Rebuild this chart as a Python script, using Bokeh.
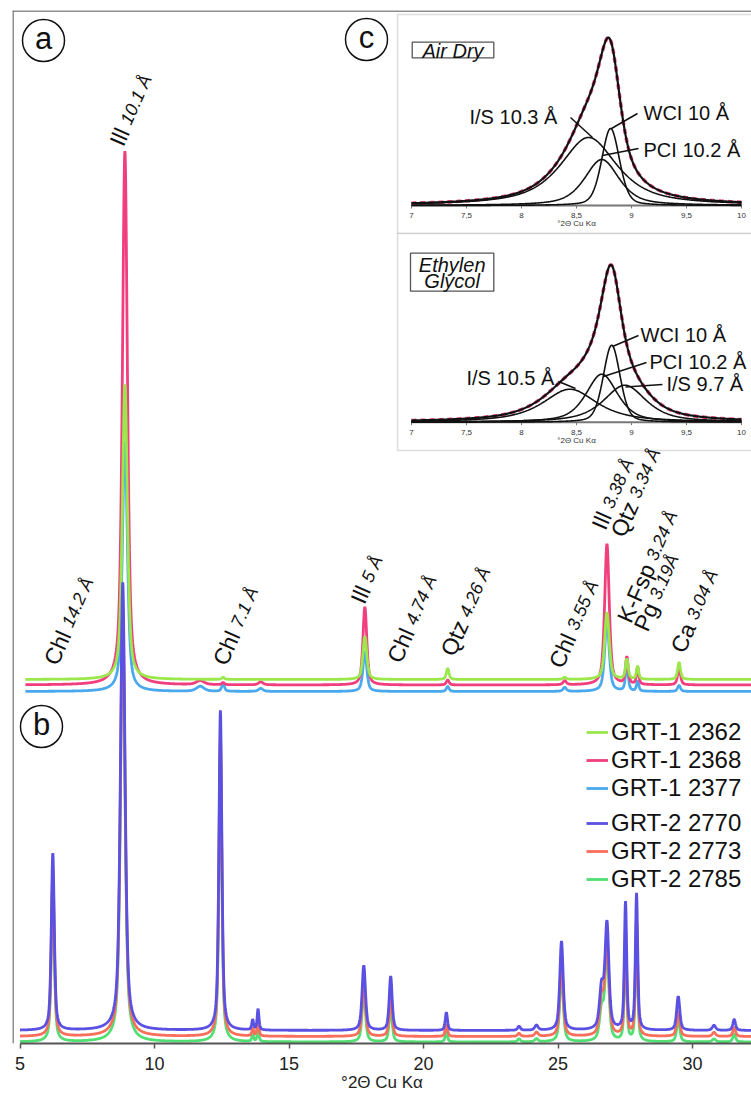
import math
import numpy as np
from bokeh.plotting import figure
from bokeh.models import Range1d, Span, BoxAnnotation, Legend, LegendItem, FixedTicker
from bokeh.core.properties import value
from bokeh.embed import file_html
from bokeh.resources import INLINE

FONT = "Liberation Sans"

# ---------------- data ----------------
# (a) GRT-1 samples: peak positions (deg 2theta), widths and heights (a.u.)
peaks_a = [8.90, 11.70, 12.55, 13.95, 17.82, 20.90, 25.25, 26.82, 27.56, 27.96, 29.50]
fwhm_a = [0.22, 0.35, 0.12, 0.20, 0.17, 0.12, 0.15, 0.20, 0.12, 0.10, 0.13]
grt1_2362 = [295, 0, 2, 0, 43, 11, 2, 67, 20, 13, 17]
grt1_2368 = [534, 4, 2, 3, 78, 5, 4, 141, 27, 17, 17]
grt1_2377 = [250, 5, 8, 3, 40, 5, 4, 70, 27, 10, 6]
offset_a = [364, 358.5, 352]          # stacked baselines 2362, 2368, 2377

# (b) GRT-2 samples
peaks_b = [6.22, 8.82, 12.45, 13.65, 13.85, 17.78, 18.78, 20.85, 23.55, 24.20,
           25.13, 26.62, 26.82, 27.51, 27.92, 29.47, 30.80, 31.55]
fwhm_b = [0.13, 0.20, 0.13, 0.08, 0.08, 0.15, 0.13, 0.10, 0.12, 0.15,
          0.15, 0.18, 0.17, 0.10, 0.10, 0.14, 0.15, 0.12]
grt2_2770 = [177, 448, 320, 10, 21, 65, 54, 18, 4, 5, 89, 40, 105, 127, 136, 34, 5, 11]
grt2_2773 = [165, 430, 300, 8, 15, 55, 40, 12, 3, 4, 75, 35, 95, 105, 115, 25, 4, 9]
grt2_2785 = [160, 420, 290, 7, 12, 50, 35, 10, 3, 3, 70, 30, 90, 100, 110, 22, 3, 8]
offset_b = [13, 7, 1.5]               # stacked baselines 2770, 2773, 2785

series_names = ["GRT-1 2362", "GRT-1 2368", "GRT-1 2377", "GRT-2 2770", "GRT-2 2773", "GRT-2 2785"]
series_colors = ["#9BE84C", "#F03F7C", "#4AA9EE", "#5A50E2", "#FA6E5C", "#52DE72"]

peak_names = ["Ill", "Chl", "Chl", "Ill", "Chl", "Qtz", "Chl", "Ill", "Qtz", "K-Fsp", "Pg", "Ca"]
peak_dspacing = ["10.1 Å", "14.2 Å", "7.1 Å", "5 Å", "4.74 Å", "4.26 Å", "3.55 Å",
                 "3.38 Å", "3.34 Å", "3.24 Å", "3.19Å", "3.04 Å"]

# (c) decomposition of the 10 Å reflection
ad_names = ["I/S 10.3 Å", "WCI 10 Å", "PCI 10.2 Å"]
ad_center = [8.61, 8.81, 8.73]
ad_height = [68, 77, 46]
ad_fwhm = [0.62, 0.19, 0.37]
ad_eta = [0.8, 0.3, 0.6]

eg_names = ["I/S 10.5 Å", "WCI 10 Å", "PCI 10.2 Å", "I/S 9.7 Å"]
eg_center = [8.44, 8.82, 8.73, 8.94]
eg_height = [33, 77, 48, 37]
eg_fwhm = [0.59, 0.18, 0.34, 0.46]
eg_eta = [0.8, 0.3, 0.6, 0.7]

inset_ticks = [7, 7.5, 8, 8.5, 9, 9.5, 10]
inset_tick_labels = ["7", "7,5", "8", "8,5", "9", "9,5", "10"]
main_ticks = [5, 10, 15, 20, 25, 30]
x_title = "°2Θ Cu Kα"


def profile(x, centers, heights, widths, eta=0.6):
    etas = eta if isinstance(eta, list) else [eta] * len(centers)
    y = np.zeros_like(x)
    for c, h, w, e in zip(centers, heights, widths, etas):
        t = (x - c) / w
        y += h * (e / (1 + 4 * t * t) + (1 - e) * np.exp(-4 * np.log(2) * t * t))
    return y


# ---------------- layout helpers (page pixels -> data) ----------------
PX_PER_DEG = 26.9
X5_PX = 19.5
AXIS_PY = 1043
W, H = 751, 1099


def dx(px):
    return 5 + (px - X5_PX) / PX_PER_DEG


def dy(py):
    return AXIS_PY - py


p = figure(width=W, height=H,
           x_range=Range1d(dx(12), dx(W)), y_range=Range1d(0, AXIS_PY - 10),
           output_backend="svg", toolbar_location=None, y_axis_location=None,
           min_border_left=12, min_border_right=0, min_border_top=10, min_border_bottom=H - AXIS_PY)
p.xgrid.visible = False
p.ygrid.visible = False
p.outline_line_color = None
p.background_fill_color = "white"
p.border_fill_color = "white"

xa = p.xaxis[0]
xa.ticker = FixedTicker(ticks=main_ticks)
xa.bounds = (5, 40)
xa.axis_line_color = "#555555"
xa.axis_line_width = 2
xa.major_tick_line_color = "#555555"
xa.major_tick_line_width = 1.5
xa.major_tick_out = 5
xa.major_tick_in = 0
xa.minor_tick_line_color = None
xa.major_label_text_font = FONT
xa.major_label_text_font_size = "18px"
xa.major_label_text_color = "#222222"
xa.major_label_standoff = 8
xa.axis_label = x_title
xa.axis_label_text_font = FONT
xa.axis_label_text_font_size = "17px"
xa.axis_label_text_font_style = "normal"
xa.axis_label_text_color = "#222222"
xa.axis_label_standoff = 0

# outer frame (left + top)
p.add_layout(Span(location=dx(12.5), dimension="height", line_color="#6a6a6a", line_width=1.5))
p.add_layout(Span(location=dy(10.5), dimension="width", line_color="#6a6a6a", line_width=1.5))

# inset boxes
for top_py, bot_py in [(14, 233), (233, 450)]:
    p.add_layout(BoxAnnotation(left=dx(397), right=dx(770), top=dy(top_py), bottom=dy(bot_py),
                               fill_color="white", fill_alpha=1, line_color="#8a8a8a",
                               line_width=1.5, level="underlay"))

# ---------------- traces ----------------
xa_grid = np.arange(5.2, 32.3, 0.01)
xb_grid = np.arange(5.0, 32.3, 0.01)
renderers = {}
for idx in [2, 1, 0]:
    heights = [grt1_2362, grt1_2368, grt1_2377][idx]
    y = offset_a[idx] + profile(xa_grid, peaks_a, heights, fwhm_a)
    renderers[series_names[idx]] = p.line(xa_grid, y, line_color=series_colors[idx], line_width=2.8)
for idx in [2, 1, 0]:
    heights = [grt2_2770, grt2_2773, grt2_2785][idx]
    y = offset_b[idx] + profile(xb_grid, peaks_b, heights, fwhm_b)
    renderers[series_names[3 + idx]] = p.line(xb_grid, y, line_color=series_colors[3 + idx], line_width=2.8)

# ---------------- peak labels (rotated) ----------------
theta = math.radians(66)
label_px = [(120.7, 144), (55, 663), (224, 663.3), (361.7, 601.7), (398.3, 660.7), (451.7, 654),
            (560, 666), (602.7, 527.7), (621.7, 535), (628.3, 620.7), (645, 629.3), (681.7, 650.7)]
name_em = {"Ill": 0.722, "Chl": 1.5, "Qtz": 1.556, "K-Fsp": 2.667, "Pg": 1.223, "Ca": 1.278}
F1, F2 = 23, 18
nx, ny, sx, sy = [], [], [], []
for name, (mx, my) in zip(peak_names, label_px):
    bx = mx - 5
    by = my
    w = (name_em[name] + 0.278) * F1
    nx.append(dx(bx)); ny.append(dy(by))
    sx.append(dx(bx + w * math.cos(theta))); sy.append(dy(by - w * math.sin(theta)))
p.text(x=nx, y=ny, text=peak_names, angle=theta, text_font=value(FONT), text_font_size=f"{F1}px",
       text_align="left", text_baseline="alphabetic", text_color="#111111")
p.text(x=sx, y=sy, text=peak_dspacing, angle=theta, text_font=value(FONT), text_font_size=f"{F2}px",
       text_font_style="italic", text_align="left", text_baseline="alphabetic", text_color="#111111")

# ---------------- panel letters ----------------
letters = ["a", "b", "c"]
letter_px = [(43, 40), (41, 726), (366, 39)]
p.scatter(x=[dx(a) for a, b in letter_px], y=[dy(b) for a, b in letter_px], marker="circle",
          size=42, fill_color="white", line_color="#111111", line_width=1.5)
p.text(x=[dx(a) for a, b in letter_px], y=[dy(b) + 2 for a, b in letter_px], text=letters,
       text_font=value(FONT), text_font_size="31px", text_align="center", text_baseline="middle",
       text_color="#111111")

# ---------------- legends ----------------
leg1 = Legend(items=[LegendItem(label=n, renderers=[renderers[n]]) for n in series_names[:3]],
              location=(574, 241))
leg2 = Legend(items=[LegendItem(label=n, renderers=[renderers[n]]) for n in series_names[3:]],
              location=(574, 150))
for lg in (leg1, leg2):
    lg.label_text_font = FONT
    lg.label_text_font_size = "24px"
    lg.label_text_color = "#111111"
    lg.glyph_width = 22
    lg.glyph_height = 20
    lg.label_standoff = 3
    lg.spacing = 0
    lg.padding = 0
    lg.margin = 0
    lg.border_line_color = None
    lg.background_fill_alpha = 0
    p.add_layout(lg)

# ---------------- inset (c) ----------------
IX0_PX, IPX_PER_DEG = 411, 110


def ix(px):
    return 7 + (px - IX0_PX) / IPX_PER_DEG


inset_grid = np.linspace(7, 10, 601)
panels = [
    dict(base=205, names=ad_names, c=ad_center, h=ad_height, w=ad_fwhm, e=ad_eta,
         tag_box=(411.7, 493.3, 41.7, 57.3), tag_lines=["Air Dry"], tag_py=[50],
         text_pos=[(469, 116), (643, 112), (643, 149)],
         leaders=[((592, 137), (570, 117)), ((611, 128), (637, 113)), ((602, 155), (638, 148))]),
    dict(base=421.7, names=eg_names, c=eg_center, h=eg_height, w=eg_fwhm, e=eg_eta,
         tag_box=(410, 493.3, 252.7, 290.7), tag_lines=["Ethylen", "Glycol"], tag_py=[264.5, 280],
         text_pos=[(466, 377), (640, 334), (649, 361), (666, 383)],
         leaders=[((575, 388), (558, 381)), ((612, 346), (638, 335)), ((603, 376), (646, 362)),
                  ((625, 386.5), (662, 384))]),
]
for pan in panels:
    base = pan["base"]
    sub = p.subplot(x_source=Range1d(7, 10), y_source=Range1d(0, 100),
                    x_target=Range1d(dx(IX0_PX), dx(IX0_PX + 3 * IPX_PER_DEG)),
                    y_target=Range1d(dy(base), dy(base - 100)))

    def iy(py, base=base):
        return base - py

    # axis
    sub.segment(x0=[7], y0=[0], x1=[10], y1=[0], line_color="#777777", line_width=2)
    sub.segment(x0=inset_ticks, y0=[0] * 7, x1=inset_ticks, y1=[-3] * 7, line_color="#777777", line_width=1)
    sub.text(x=inset_ticks, y=[-10] * 7, text=inset_tick_labels, text_font=value(FONT),
             text_font_size="8px", text_align="center", text_baseline="middle", text_color="#333333")
    sub.text(x=[8.5], y=[-18], text=[x_title], text_font=value(FONT), text_font_size="8px",
             text_align="center", text_baseline="middle", text_color="#333333")
    # curves
    total = profile(inset_grid, pan["c"], pan["h"], pan["w"], pan["e"])
    sub.line(inset_grid, total, line_color="#E8487F", line_width=3.5, line_dash="5 4")
    for c, h, w, e in zip(pan["c"], pan["h"], pan["w"], pan["e"]):
        sub.line(inset_grid, profile(inset_grid, [c], [h], [w], e), line_color="#111111", line_width=1.6)
    sub.line(inset_grid, total, line_color="#111111", line_width=2.2)
    # labels + leaders
    sub.segment(x0=[ix(a[0]) for a, b in pan["leaders"]], y0=[iy(a[1]) for a, b in pan["leaders"]],
                x1=[ix(b[0]) for a, b in pan["leaders"]], y1=[iy(b[1]) for a, b in pan["leaders"]],
                line_color="#111111", line_width=1.5)
    sub.text(x=[ix(a) for a, b in pan["text_pos"]], y=[iy(b) for a, b in pan["text_pos"]],
             text=pan["names"], text_font=value(FONT), text_font_size="20px",
             text_align="left", text_baseline="middle", text_color="#111111")
    l, r, t, b = pan["tag_box"]
    sub.quad(left=[ix(l)], right=[ix(r)], top=[iy(t)], bottom=[iy(b)], fill_color="white",
             line_color="#555555", line_width=1.3)
    sub.text(x=[ix((l + r) / 2)] * len(pan["tag_lines"]), y=[iy(v) for v in pan["tag_py"]],
             text=pan["tag_lines"], text_font=value(FONT), text_font_size="20px",
             text_font_style="italic", text_align="center", text_baseline="middle", text_color="#111111")

open("out.html", "w").write(file_html(p, INLINE))
